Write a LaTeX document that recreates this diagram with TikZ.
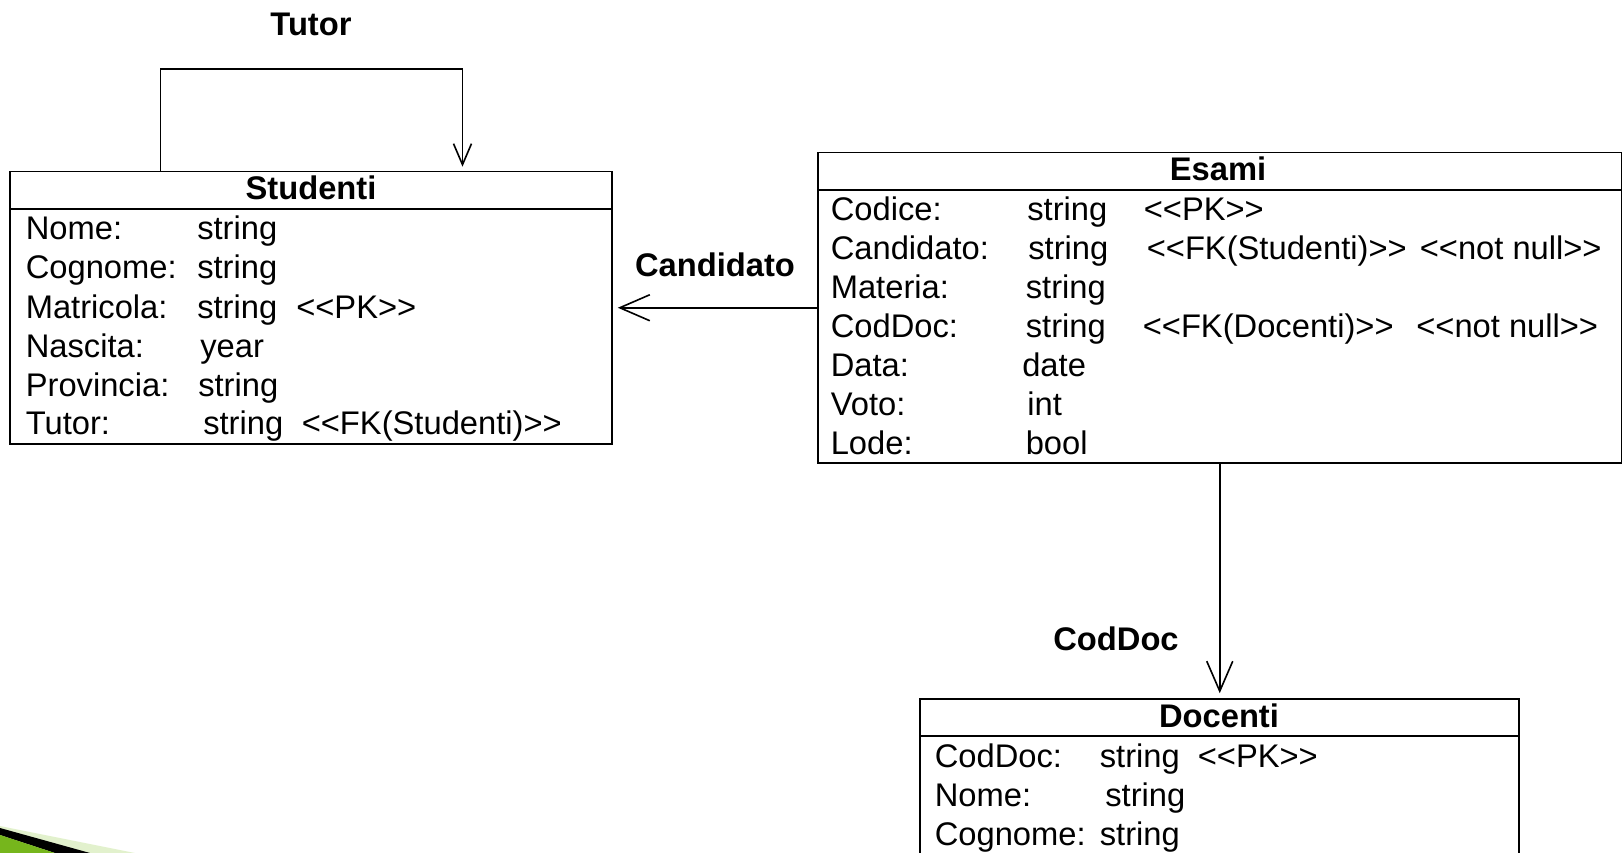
\documentclass[tikz,border=0pt]{standalone}
\usepackage{fontspec}
\setmainfont{Liberation Sans}
\usepackage{tikz}
\usetikzlibrary{arrows.meta}

\definecolor{slidegreen}{RGB}{118,182,28}
\definecolor{slidelight}{RGB}{226,241,205}
\newcommand{\stereo}[1]{<\kern0pt<#1>\kern0pt>}

\begin{document}
\begin{tikzpicture}[x=1pt, y=-1pt, line width=1.6pt,
  tbl/.style={draw, rectangle, inner sep=0pt},
  head/.style={anchor=base, inner sep=0pt, font=\fontsize{32.7pt}{39pt}\selectfont\bfseries},
  field/.style={anchor=base west, inner sep=0pt, font=\fontsize{32.7pt}{39pt}\selectfont},
  lbl/.style={anchor=base, inner sep=0pt, font=\fontsize{32.7pt}{39pt}\selectfont\bfseries},
  assoc/.style={-{Straight Barb[length=30pt, width=26pt]}, shorten >=5pt},
  selfref/.style={-{Straight Barb[length=21pt, width=18pt]}, shorten >=4pt}]
\useasboundingbox (0,0) rectangle (1623,853);
\clip (0,0) rectangle (1623,853);

% slide decoration
\fill [slidelight] (0,826) -- (135,853) -- (0,853) -- cycle;
\fill [black] (0,828) -- (90,853) -- (55,853) -- (0,835) -- cycle;
\fill [slidegreen] (0,835) -- (55,853) -- (0,853) -- cycle;

% Studenti
\node [tbl, minimum width=602pt, minimum height=272.5pt] (studenti) at (311,307.75) {};
\draw ([yshift=-38.5pt]studenti.north west) -- ([yshift=-38.5pt]studenti.north east);
\node [head] (stuHead) at (311,200) {Studenti};
\node [field] (stuA1) at (25,240) {Nome:};
\node [field] (stuB1) at (196.5,240) {string};
\node [field] (stuA2) at (25,279) {Cognome:};
\node [field] (stuB2) at (196.5,279) {string};
\node [field] (stuA3) at (25,318) {Matricola:};
\node [field] (stuB3) at (196.5,318) {string};
\node [field] (stuC3) at (295.5,318) {\stereo{PK}};
\node [field] (stuA4) at (25,357) {Nascita:};
\node [field] (stuB4) at (199.5,357) {year};
\node [field] (stuA5) at (25,396) {Provincia:};
\node [field] (stuB5) at (197.5,396) {string};
\node [field] (stuA6) at (25,434.5) {Tutor:};
\node [field] (stuB6) at (202.5,434.5) {string};
\node [field] (stuC6) at (301,434.5) {\stereo{FK(Studenti)}};

% Esami
\node [tbl, minimum width=803.5pt, minimum height=310.5pt] (esami) at (1219.75,307.75) {};
\draw ([yshift=-38.5pt]esami.north west) -- ([yshift=-38.5pt]esami.north east);
\node [head] (esaHead) at (1218,181) {Esami};
\node [field] (esaA1) at (830,221) {Codice:};
\node [field] (esaB1) at (1026.5,221) {string};
\node [field] (esaC1) at (1143,221) {\stereo{PK}};
\node [field] (esaA2) at (830,260) {Candidato:};
\node [field] (esaB2) at (1027.5,260) {string};
\node [field] (esaC2) at (1146,260) {\stereo{FK(Studenti)}};
\node [field] (esaD2) at (1419,260) {\stereo{not null}};
\node [field] (esaA3) at (830,298.5) {Materia:};
\node [field] (esaB3) at (1025,298.5) {string};
\node [field] (esaA4) at (830,337.5) {CodDoc:};
\node [field] (esaB4) at (1025,337.5) {string};
\node [field] (esaC4) at (1142,337.5) {\stereo{FK(Docenti)}};
\node [field] (esaD4) at (1415.5,337.5) {\stereo{not null}};
\node [field] (esaA5) at (830,376) {Data:};
\node [field] (esaB5) at (1021.5,376) {date};
\node [field] (esaA6) at (830,415) {Voto:};
\node [field] (esaB6) at (1026.5,415) {int};
\node [field] (esaA7) at (830,454) {Lode:};
\node [field] (esaB7) at (1025,454) {bool};

% Docenti
\node [tbl, minimum width=599pt, minimum height=181pt] (docenti) at (1219.75,789.5) {};
\draw ([yshift=-38pt]docenti.north west) -- ([yshift=-38pt]docenti.north east);
\node [head] (docHead) at (1219,727) {Docenti};
\node [field] (docA1) at (934,767) {CodDoc:};
\node [field] (docB1) at (1099,767) {string};
\node [field] (docC1) at (1197,767) {\stereo{PK}};
\node [field] (docA2) at (934,806) {Nome:};
\node [field] (docB2) at (1104.5,806) {string};
\node [field] (docA3) at (934,845) {Cognome:};
\node [field] (docB3) at (1099,845) {string};

% associations
\coordinate (tutorL) at (160.5,69);
\coordinate (tutorR) at (462.5,69);
\draw [selfref] (studenti.north -| tutorL) -- (tutorL) -- (tutorR) -- (studenti.north -| tutorR);
\node [lbl] (tutorLbl) at (311,36) {Tutor};
\draw [assoc] (esami.west) -- (studenti.east);
\node [lbl] (candLbl) at (715,276.5) {Candidato};
\draw [assoc] (esami.south) -- (docenti.north);
\node [lbl] (codLbl) at (1116,650) {CodDoc};
\end{tikzpicture}
\end{document}
